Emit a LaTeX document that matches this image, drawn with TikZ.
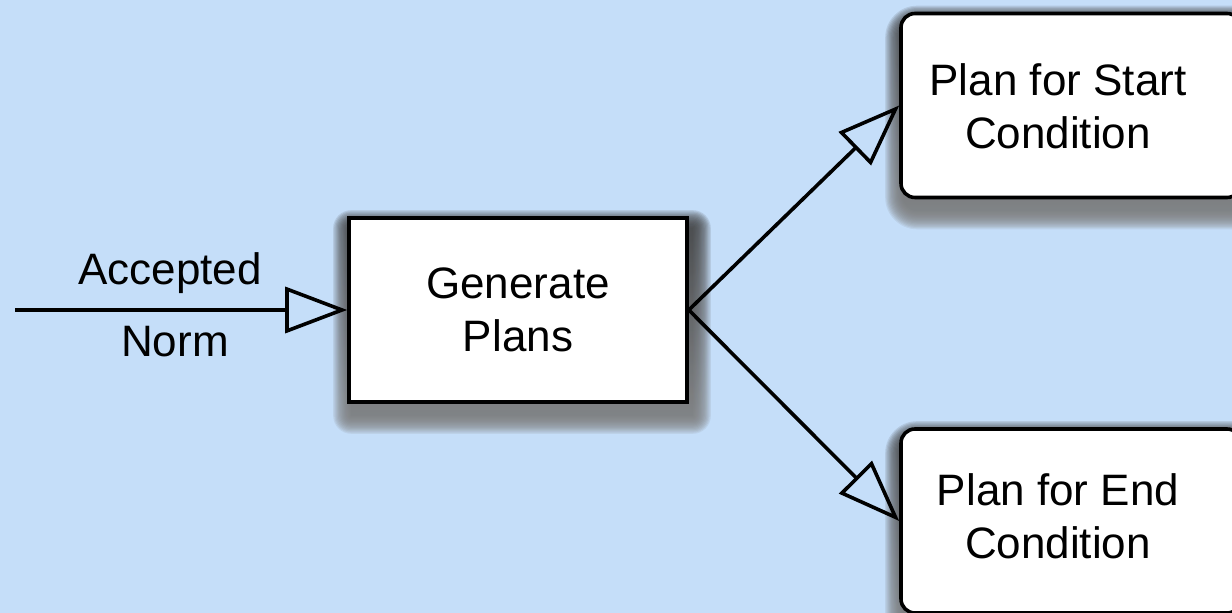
\documentclass[tikz,border=0pt]{standalone}
\usepackage{fontspec}
\setmainfont{Liberation Sans}
\usetikzlibrary{arrows.meta}

\definecolor{canvas}{RGB}{197,222,249}
\definecolor{shade}{RGB}{15,25,50}

\pgfdeclarelayer{canvaslayer}
\pgfdeclarelayer{shadowlayer}
\pgfsetlayers{canvaslayer,shadowlayer,main}

\tikzset{
  lbl/.style={font=\fontsize{22}{26.5}\selectfont, align=center, inner sep=0pt},
  procbox/.style={draw=black, line width=1.8pt, fill=white,
      minimum width=169pt, minimum height=92pt, inner sep=0pt, lbl},
  planbox/.style={procbox, rounded corners=7pt, minimum width=170pt},
  flow/.style={line width=1.8pt, draw=black,
      -{Triangle[open, length=31pt, width=23pt, line width=1.8pt]}}
}

% soft drop shadow behind a named node: #1 node, #2 corner radius (pt)
\newcommand\boxshadow[2]{%
  \begin{pgfonlayer}{shadowlayer}
    \foreach \i in {0,...,15}{
      \fill[shade, opacity=0.07, rounded corners={(#2+0.6*\i)*1pt}]
        ([shift={(4-1.2*\i,12+1.2*\i)}]#1.south west) rectangle
        ([shift={(4+1.2*\i,12-1.2*\i)}]#1.north east);
    }
  \end{pgfonlayer}}

\begin{document}
\begin{tikzpicture}[x=0.5pt, y=-0.5pt]
  % canvas
  \begin{pgfonlayer}{canvaslayer}
    \fill[canvas] (0,0) rectangle (1232,613);
  \end{pgfonlayer}
  \useasboundingbox (0,0) rectangle (1232,613);

  % process and its two plans
  \node[procbox] (gen) at (518,310) {Generate\\Plans};
  \node[planbox] (start) at (1071,105.5) {};
  \node[lbl] (starttxt) at (1058,106) {Plan for Start\\Condition};
  \node[planbox] (endc) at (1071,521) {};
  \node[lbl] (endtxt) at (1058,516) {Plan for End\\Condition};

  \boxshadow{gen}{0}
  \boxshadow{start}{7}
  \boxshadow{endc}{7}

  % incoming norm
  \coordinate (src) at (15,310);
  \draw[flow] (src) -- (gen.west);
  \node[lbl] (acc) at (170,273) {Accepted};
  \node[lbl] (norm) at (175,342) {Norm};

  % outgoing plans
  \draw[flow] (gen.east) -- (start.west);
  \draw[flow] (gen.east) -- (endc.west);
\end{tikzpicture}
\end{document}
